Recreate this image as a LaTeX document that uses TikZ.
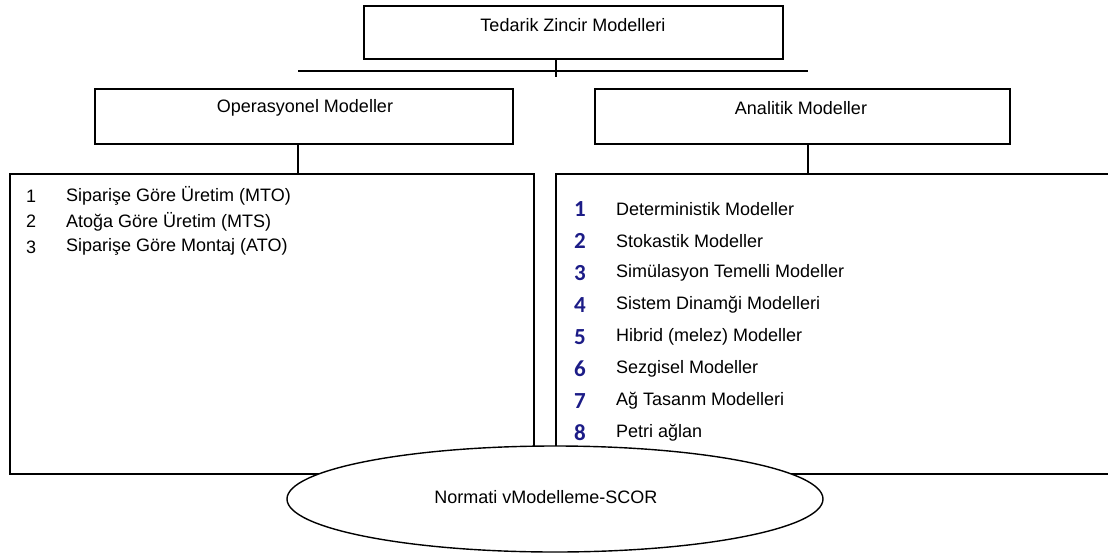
\documentclass[tikz,border=0pt]{standalone}
\usepackage{fontspec}
\setmainfont{Liberation Sans}
\newfontfamily\chiffres{Carlito}
\usetikzlibrary{shapes.geometric}
\definecolor{bleunum}{RGB}{28,28,135}
\tikzset{
  boite/.style={draw,line width=1.9pt,inner sep=0pt,anchor=north west},
  trait/.style={line width=1.9pt},
  texte/.style={inner sep=0pt},
  numero/.style={inner sep=0pt,anchor=west,text=bleunum,font=\chiffres\bfseries\fontsize{23}{25}\selectfont},
}
\begin{document}
\begin{tikzpicture}[x=1pt,y=-1pt,font=\fontsize{18}{21}\selectfont] % une unite = un pixel
\useasboundingbox (0,0) rectangle (1108,557);
\clip (0,0) rectangle (1108,557);
% les cadres
\node[boite,minimum width=419pt,minimum height=53pt] (tedarik) at (363,5) {};
\node[boite,minimum width=418pt,minimum height=55pt] (operasyonel) at (94,88) {};
\node[boite,minimum width=415pt,minimum height=55pt] (analitik) at (594,88) {};
\node[boite,minimum width=524pt,minimum height=300pt] (liste1) at (9,173) {};
\node[boite,minimum width=560pt,minimum height=300pt] (liste2) at (555,173) {};
% les titres
\node[texte] (tTedarik) at (573,25) {Tedarik Zincir Modelleri};
\node[texte] (tOperasyonel) at (305,108) {Operasyonel Modeller};
\node[texte] (tAnalitik) at (801,108) {Analitik Modeller};
% les liaisons
\coordinate (barreG) at (298,71);
\coordinate (barreD) at (808,71);
\coordinate (barreM) at (556,77);
\draw[trait] (barreG) -- (barreD);
\draw[trait] (tedarik.south -| barreM) -- (barreM);
\draw[trait] (operasyonel.south -| barreG) -- (liste1.north -| barreG);
\draw[trait] (analitik.south -| barreD) -- (liste2.north -| barreD);
% liste de gauche
\foreach \t [count=\i] in {Siparişe Göre Üretim (MTO),Atoğa Göre Üretim (MTS),Siparişe Göre Montaj (ATO)}
  {\node[texte,anchor=west] (gn\i) at (26,196+25.5*\i-25.5) {\i};
   \node[texte,anchor=west] (g\i) at (66,196+25.5*\i-25.5) {\t};}
% liste de droite
\foreach \t [count=\i] in {Deterministik Modeller,Stokastik Modeller,Simülasyon Temelli Modeller,Sistem Dinamği Modelleri,Hibrid (melez) Modeller,Sezgisel Modeller,Ağ Tasanm Modelleri,Petri ağlan}
  {\node[numero] (dn\i) at (574,209+32*\i-32) {\i};
   \node[texte,anchor=west] (d\i) at (616,209+32*\i-32) {\t};}
% l'ellipse par dessus
\node[draw,ellipse,line width=1.4pt,fill=white,minimum width=536pt,minimum height=106pt,inner sep=0pt] (scor) at (555,499) {};
\node[texte] (tScor) at (546,497) {Normati vModelleme-SCOR};
\end{tikzpicture}
\end{document}
